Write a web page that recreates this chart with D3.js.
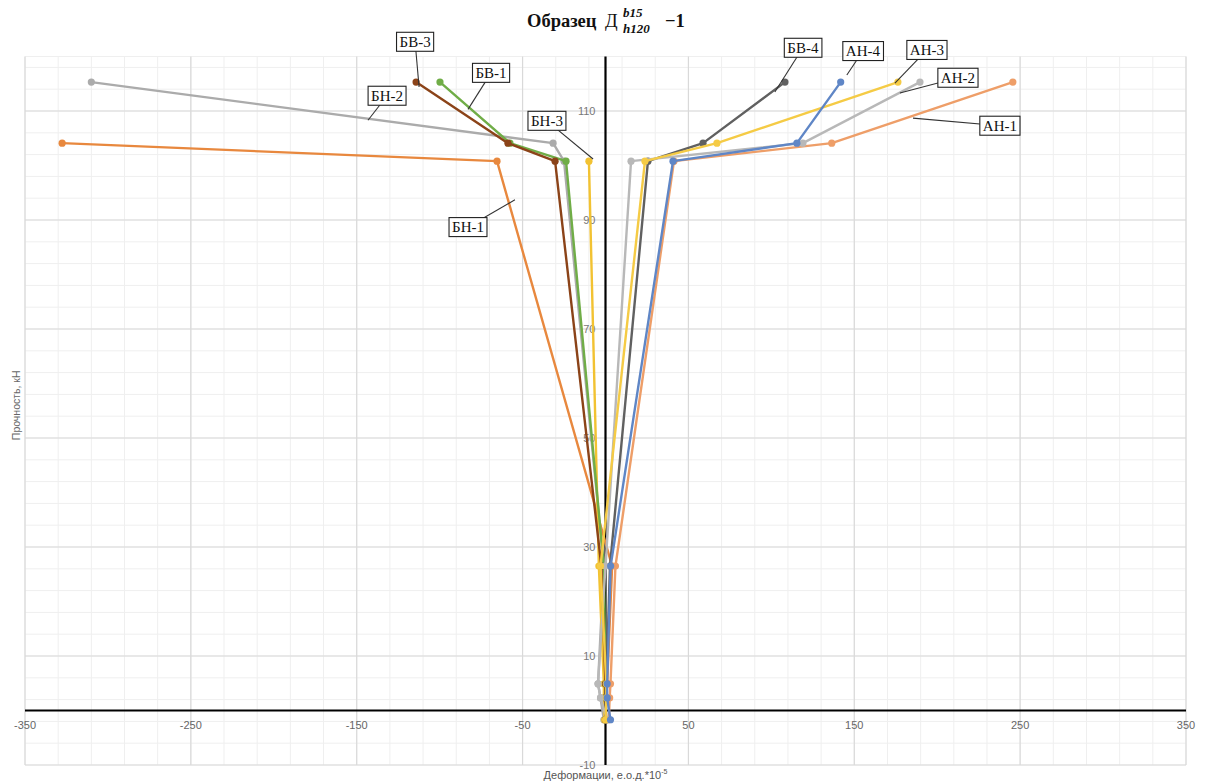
<!DOCTYPE html>
<html><head><meta charset="utf-8">
<script src="https://cdn.jsdelivr.net/npm/d3@7"></script>
<style>body{margin:0;background:#fff;} svg{display:block;}</style>
</head><body>
<svg id="c" width="1208" height="784"></svg>
<script>
// ---- data ----
const loads = [-1.7, 2.3, 4.9, 26.5, 100.8, 104.1, 115.3];
const seriesNames = ["БН-1","БН-2","БН-3","БВ-1","БВ-3","БВ-4","АН-1","АН-2","АН-3","АН-4"];
const BN1 = [0, 0.5, 1, 4, -65.4, -327.6];
const BN2 = [-1, -3, -4.5, -1, -25, -31.6, -310];
const BN3 = [-0.5, -1, -1, -4, -10];
const BV1 = [0, 0, 0, -1, -23.8, -57.6, -99.8];
const BV3 = [0, 0, 0, -2.5, -30.4, -58.8, -114.2];
const BV4 = [0.5, 0, 0.5, 2.7, 25.6, 58.8, 108.2];
const AN1 = [2, 2.5, 3, 6, 41.3, 136.4, 245.6];
const AN2 = [1, -3, -4.5, 0, 15.4, 119, 189.6];
const AN3 = [0, 0.5, 0.5, -3, 23.8, 67.2, 176.3];
const AN4 = [3, 1, 1, 3.1, 40.7, 115.4, 141.8];
const seriesColors = ["#E8883E","#ABABAB","#F2C232","#70AD47","#8B4318","#606060","#EE9E68","#B8B8B8","#F5CB45","#5F86C6"];
const xTicks = [-350, -250, -150, -50, 50, 150, 250, 350];
const yTicks = [-10, 10, 30, 50, 70, 90, 110];
// label boxes and leader anchors in data units
const labelText = ["БВ-3","БВ-1","БН-2","БН-3","БН-1","БВ-4","АН-4","АН-3","АН-2","АН-1"];
const labelBox = [[-114.8,122.7],[-69,117],[-131.7,112.8],[-35.3,108.2],[-82.9,88.7],[119,121.6],[155.2,121],[193.8,121.2],[212.5,116.1],[237.8,107.3]];
const labelAnchor = [[-112.4,114.4],[-82.9,110.3],[-143.2,108.3],[-7.5,101.2],[-54.6,93.7],[102.1,113.5],[145.5,116.6],[174.5,115.1],[177.5,113.3],[185.4,108.7]];

const seriesValues = [BN1,BN2,BN3,BV1,BV3,BV4,AN1,AN2,AN3,AN4];

const svg = d3.select("#c");
const x = d3.scaleLinear().domain([-350, 350]).range([25, 1186]);
const y = d3.scaleLinear().domain([-10, 120]).range([765, 56.5]);

// grid
const g = svg.append("g");
const minorX = d3.range(-350, 351, 20);
const minorY = d3.range(-10, 121, 4).concat([120]);
g.selectAll(".mx").data(minorX).enter().append("line")
  .attr("x1", d=>x(d)).attr("x2", d=>x(d)).attr("y1", y(120)).attr("y2", y(-10))
  .attr("stroke", "#efefef").attr("stroke-width", 1);
g.selectAll(".my").data(minorY).enter().append("line")
  .attr("y1", d=>y(d)).attr("y2", d=>y(d)).attr("x1", x(-350)).attr("x2", x(350))
  .attr("stroke", "#efefef").attr("stroke-width", 1);
g.selectAll(".Mx").data(xTicks).enter().append("line")
  .attr("x1", d=>x(d)).attr("x2", d=>x(d)).attr("y1", y(120)).attr("y2", y(-10))
  .attr("stroke", "#d9d9d9").attr("stroke-width", 1.2);
g.selectAll(".My").data(yTicks).enter().append("line")
  .attr("y1", d=>y(d)).attr("y2", d=>y(d)).attr("x1", x(-350)).attr("x2", x(350))
  .attr("stroke", "#d9d9d9").attr("stroke-width", 1.2);

// axes lines
svg.append("line").attr("x1", x(0)).attr("x2", x(0)).attr("y1", y(120)).attr("y2", y(-10))
  .attr("stroke", "#000").attr("stroke-width", 2.2);
svg.append("line").attr("x1", x(-350)).attr("x2", x(350)).attr("y1", y(0)).attr("y2", y(0))
  .attr("stroke", "#000").attr("stroke-width", 2.2);

// tick labels
const tickFont = "'Liberation Sans', Arial, sans-serif";
svg.append("g").selectAll("text").data(xTicks).enter().append("text")
  .attr("x", d=>x(d)).attr("y", y(0)+18).attr("text-anchor", "middle")
  .attr("font-family", tickFont).attr("font-size", 11).attr("fill", "#666").text(d=>d);
svg.append("g").selectAll("text").data(yTicks).enter().append("text")
  .attr("x", x(0)-10).attr("y", d=>y(d)+4).attr("text-anchor", "end")
  .attr("font-family", tickFont).attr("font-size", 11).attr("fill", "#777").text(d=>d);

// axis titles
svg.append("text").attr("transform", `translate(20,${y(56)}) rotate(-90)`)
  .attr("text-anchor", "middle").attr("font-family", tickFont).attr("font-size", 10.5)
  .attr("fill", "#666").text("Прочность, кН");
const xt = svg.append("text").attr("x", x(0)).attr("y", 779).attr("text-anchor", "middle")
  .attr("font-family", tickFont).attr("font-size", 11).attr("fill", "#555");
xt.append("tspan").text("Деформации, е.о.д.*10");
xt.append("tspan").attr("font-size", 7).attr("dy", -5).text("-5");

// title
const serif = "'Liberation Serif', 'DejaVu Serif', serif";
svg.append("text").attr("x", 527).attr("y", 27).attr("font-family", serif).attr("font-weight", "bold")
  .attr("font-size", 18.5).attr("fill", "#111").text("Образец");
svg.append("text").attr("x", 605).attr("y", 27).attr("font-family", serif)
  .attr("font-size", 18.5).attr("fill", "#111").text("Д");
svg.append("text").attr("x", 623).attr("y", 17).attr("font-family", serif).attr("font-weight", "bold").attr("font-style", "italic")
  .attr("font-size", 13).attr("fill", "#111").text("b15");
svg.append("text").attr("x", 623).attr("y", 33).attr("font-family", serif).attr("font-weight", "bold").attr("font-style", "italic")
  .attr("font-size", 13).attr("fill", "#111").text("h120");
svg.append("text").attr("x", 665).attr("y", 27).attr("font-family", serif).attr("font-weight", "bold")
  .attr("font-size", 18.5).attr("fill", "#111").text("−1");

// series
const line = d3.line().x(d=>x(d[0])).y(d=>y(d[1]));
seriesValues.forEach((vals, i) => {
  const pts = vals.map((v, j) => [v, loads[j]]);
  const sg = svg.append("g");
  sg.append("path").datum(pts).attr("d", line).attr("fill", "none")
    .attr("stroke", seriesColors[i]).attr("stroke-width", 2.4).attr("stroke-linejoin", "round");
  sg.selectAll("circle").data(pts).enter().append("circle")
    .attr("cx", d=>x(d[0])).attr("cy", d=>y(d[1])).attr("r", 3.6).attr("fill", seriesColors[i]);
});

// labels
const lg = svg.append("g");
labelText.forEach((t, i) => {
  const bx = x(labelBox[i][0]), by = y(labelBox[i][1]);
  lg.append("line").attr("x1", x(labelAnchor[i][0])).attr("y1", y(labelAnchor[i][1]))
    .attr("x2", bx).attr("y2", by).attr("stroke", "#333").attr("stroke-width", 1.1);
});
labelText.forEach((t, i) => {
  const bx = x(labelBox[i][0]), by = y(labelBox[i][1]);
  const txt = lg.append("text").attr("x", bx).attr("y", by + 5).attr("text-anchor", "middle")
    .attr("font-family", serif).attr("font-size", 15).attr("fill", "#111").text(t);
  const bb = txt.node().getBBox();
  lg.insert("rect", function(){ return txt.node(); })
    .attr("x", bb.x - 3).attr("y", by - 9.5).attr("width", bb.width + 6).attr("height", 19)
    .attr("fill", "#fff").attr("stroke", "#222").attr("stroke-width", 1.1);
});
</script>
</body></html>
